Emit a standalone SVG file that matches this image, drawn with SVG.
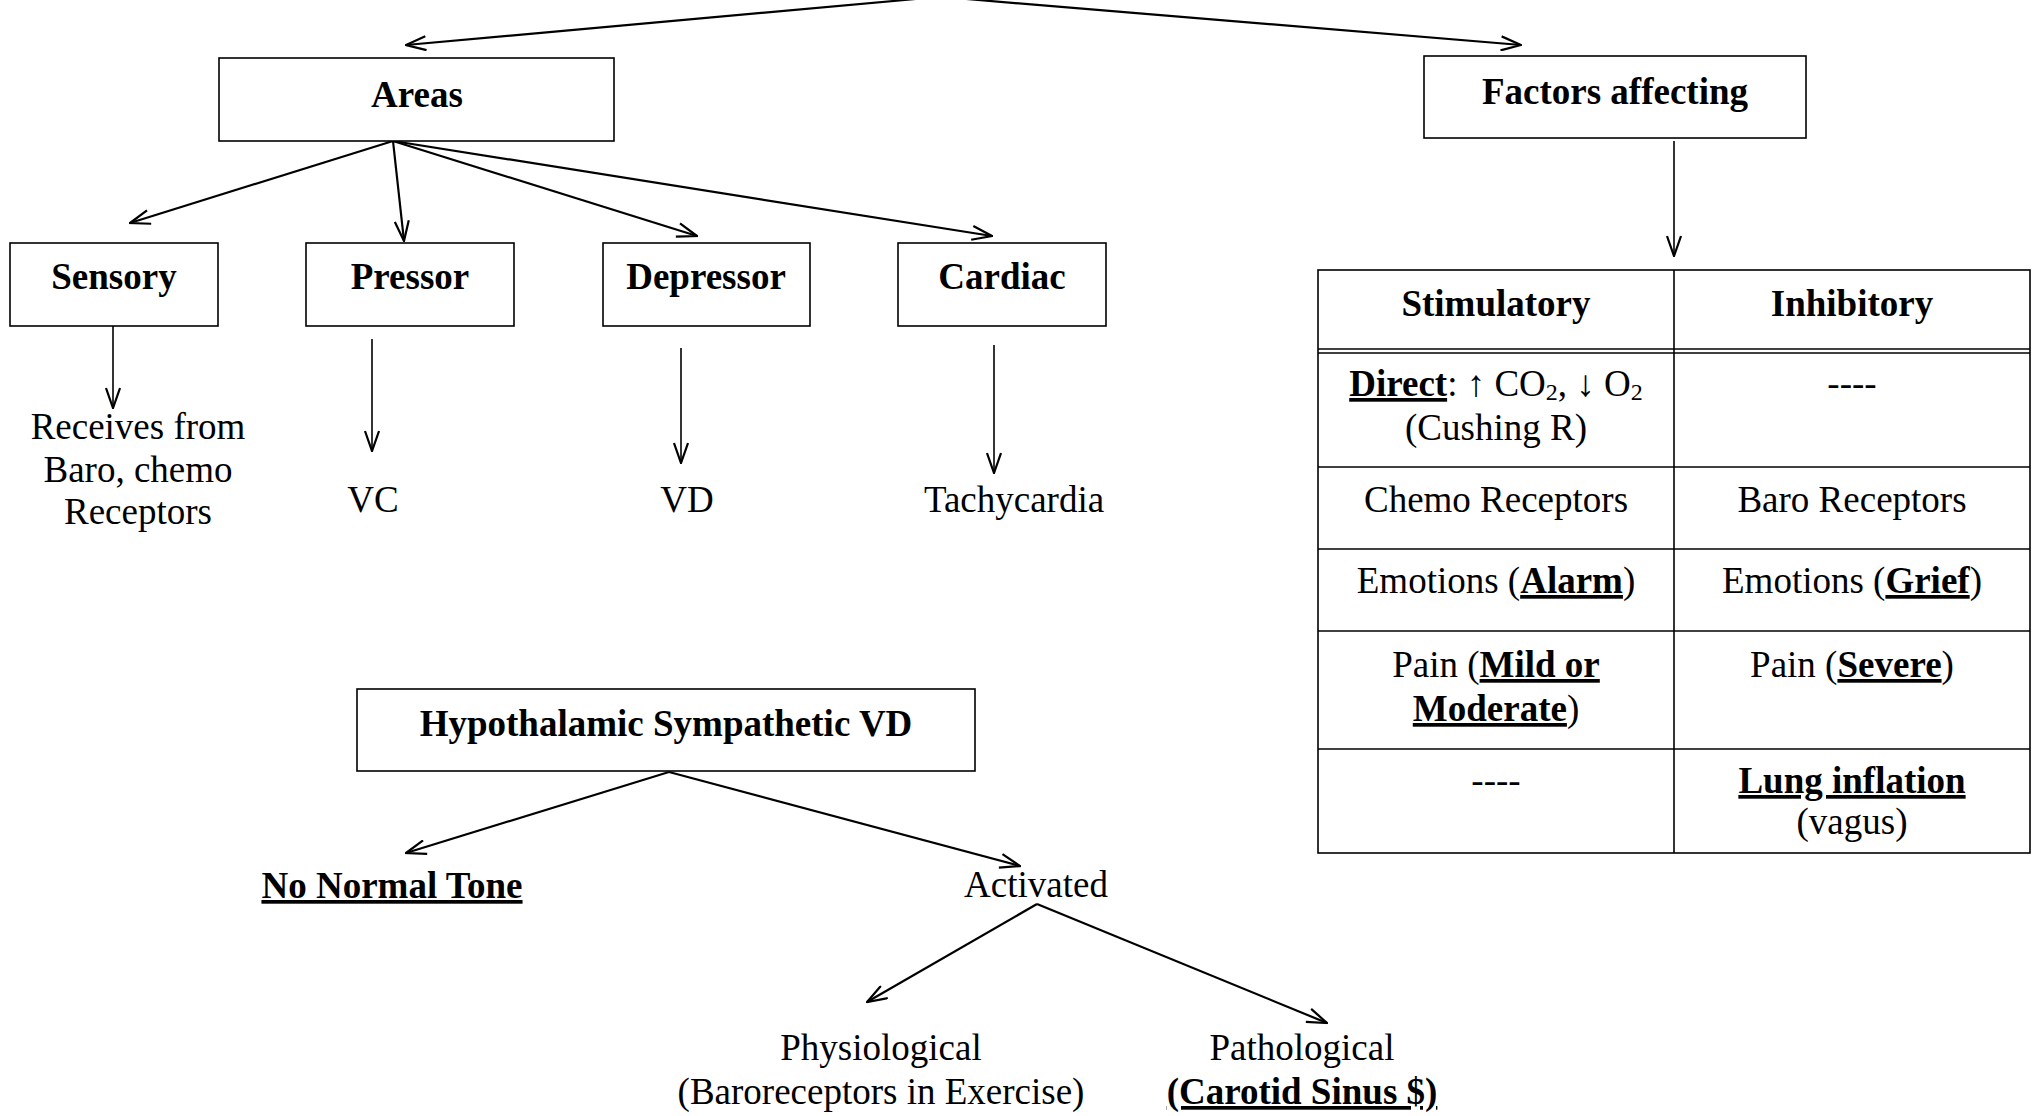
<svg xmlns="http://www.w3.org/2000/svg" width="2036" height="1116" viewBox="0 0 2036 1116">
  <style>
    text { font-family: "Liberation Serif", "Times New Roman", serif; font-size: 37px; fill: #000; text-anchor: middle; }
    .b { font-weight: bold; }
    .u { text-decoration: underline; text-decoration-thickness: 2.5px; }
    .box { fill: #fff; stroke: #000; stroke-width: 1.6; }
    .cell { fill: none; stroke: #000; stroke-width: 1.6; }
    .edge { fill: none; stroke: #000; stroke-width: 2.2; marker-end: url(#arr); }
    .thin { fill: none; stroke: #000; stroke-width: 1.6; marker-end: url(#arr); }
    .sub { font-size: 24px; }
  </style>
  <defs>
    <marker id="arr" viewBox="0 0 22 16" refX="21" refY="8" markerWidth="22" markerHeight="16" markerUnits="userSpaceOnUse" orient="auto">
      <path d="M1,1 L21,8 L1,15" fill="none" stroke="#000" stroke-width="2.2"/>
    </marker>
  </defs>
  <rect width="2036" height="1116" fill="#fff"/>

  <!-- connectors -->
  <g id="connectors">
    <line class="edge" x1="916" y1="-1" x2="406" y2="45"/>
    <line class="edge" x1="966" y1="-1" x2="1521" y2="45"/>
    <line class="edge" x1="393" y1="141" x2="130" y2="223"/>
    <line class="edge" x1="393" y1="141" x2="404" y2="241"/>
    <line class="edge" x1="393" y1="141" x2="697" y2="236"/>
    <line class="edge" x1="393" y1="141" x2="992" y2="236"/>
    <line class="thin" x1="113" y1="326" x2="113" y2="408"/>
    <line class="thin" x1="372" y1="339" x2="372" y2="451"/>
    <line class="thin" x1="681" y1="348" x2="681" y2="463"/>
    <line class="thin" x1="994" y1="345" x2="994" y2="473"/>
    <line class="thin" x1="1674" y1="141" x2="1674" y2="256"/>
    <line class="edge" x1="669" y1="772" x2="406" y2="853"/>
    <line class="edge" x1="669" y1="772" x2="1020" y2="866"/>
    <line class="edge" x1="1037" y1="904" x2="867" y2="1002"/>
    <line class="edge" x1="1037" y1="904" x2="1327" y2="1023"/>
  </g>

  <g id="areas">
    <rect class="box" x="219" y="58" width="395" height="83"/>
    <text class="b" x="417" y="107">Areas</text>
  </g>
  <g id="factors">
    <rect class="box" x="1424" y="56" width="382" height="82"/>
    <text class="b" x="1615" y="104">Factors affecting</text>
  </g>

  <g id="sensory">
    <rect class="box" x="10" y="243" width="208" height="83"/>
    <text class="b" x="114" y="289">Sensory</text>
  </g>
  <g id="pressor">
    <rect class="box" x="306" y="243" width="208" height="83"/>
    <text class="b" x="410" y="289">Pressor</text>
  </g>
  <g id="depressor">
    <rect class="box" x="603" y="243" width="207" height="83"/>
    <text class="b" x="706" y="289">Depressor</text>
  </g>
  <g id="cardiac">
    <rect class="box" x="898" y="243" width="208" height="83"/>
    <text class="b" x="1002" y="289">Cardiac</text>
  </g>

  <g id="sensory-out">
    <text x="138" y="439">Receives from</text>
    <text x="138" y="482">Baro, chemo</text>
    <text x="138" y="524">Receptors</text>
  </g>
  <g id="vc"><text x="373" y="512">VC</text></g>
  <g id="vd"><text x="687" y="512">VD</text></g>
  <g id="tachycardia"><text x="1014" y="512">Tachycardia</text></g>

  <!-- stimulatory / inhibitory table -->
  <g id="factors-table">
    <rect class="cell" x="1318" y="270" width="712" height="583"/>
    <line class="cell" x1="1674" y1="270" x2="1674" y2="853"/>
    <line class="cell" x1="1318" y1="349" x2="2030" y2="349"/>
    <line class="cell" x1="1318" y1="353" x2="2030" y2="353"/>
    <line class="cell" x1="1318" y1="467" x2="2030" y2="467"/>
    <line class="cell" x1="1318" y1="549" x2="2030" y2="549"/>
    <line class="cell" x1="1318" y1="631" x2="2030" y2="631"/>
    <line class="cell" x1="1318" y1="749" x2="2030" y2="749"/>

    <text class="b" x="1496" y="316">Stimulatory</text>
    <text class="b" x="1852" y="316">Inhibitory</text>

    <text x="1496" y="396"><tspan class="b u">Direct</tspan>: ↑ CO<tspan class="sub" dy="4">2</tspan><tspan dy="-4">, ↓ O</tspan><tspan class="sub" dy="4">2</tspan></text>
    <text x="1496" y="440">(Cushing R)</text>
    <text x="1852" y="396">----</text>

    <text x="1496" y="512">Chemo Receptors</text>
    <text x="1852" y="512">Baro Receptors</text>

    <text x="1496" y="593">Emotions (<tspan class="b u">Alarm</tspan>)</text>
    <text x="1852" y="593">Emotions (<tspan class="b u">Grief</tspan>)</text>

    <text x="1496" y="677">Pain (<tspan class="b u">Mild or</tspan></text>
    <text x="1496" y="721"><tspan class="b u">Moderate</tspan>)</text>
    <text x="1852" y="677">Pain (<tspan class="b u">Severe</tspan>)</text>

    <text x="1496" y="793">----</text>
    <text class="b u" x="1852" y="793">Lung inflation</text>
    <text x="1852" y="834">(vagus)</text>
  </g>

  <g id="hypothalamic">
    <rect class="box" x="357" y="689" width="618" height="82"/>
    <text class="b" x="666" y="736">Hypothalamic Sympathetic VD</text>
  </g>
  <g id="no-normal-tone"><text class="b u" x="392" y="898">No Normal Tone</text></g>
  <g id="activated"><text x="1036" y="897">Activated</text></g>
  <g id="physiological">
    <text x="881" y="1060">Physiological</text>
    <text x="881" y="1104">(Baroreceptors in Exercise)</text>
  </g>
  <g id="pathological">
    <text x="1302" y="1060">Pathological</text>
    <text class="b u" x="1302" y="1104">(Carotid Sinus $)</text>
  </g>
</svg>
